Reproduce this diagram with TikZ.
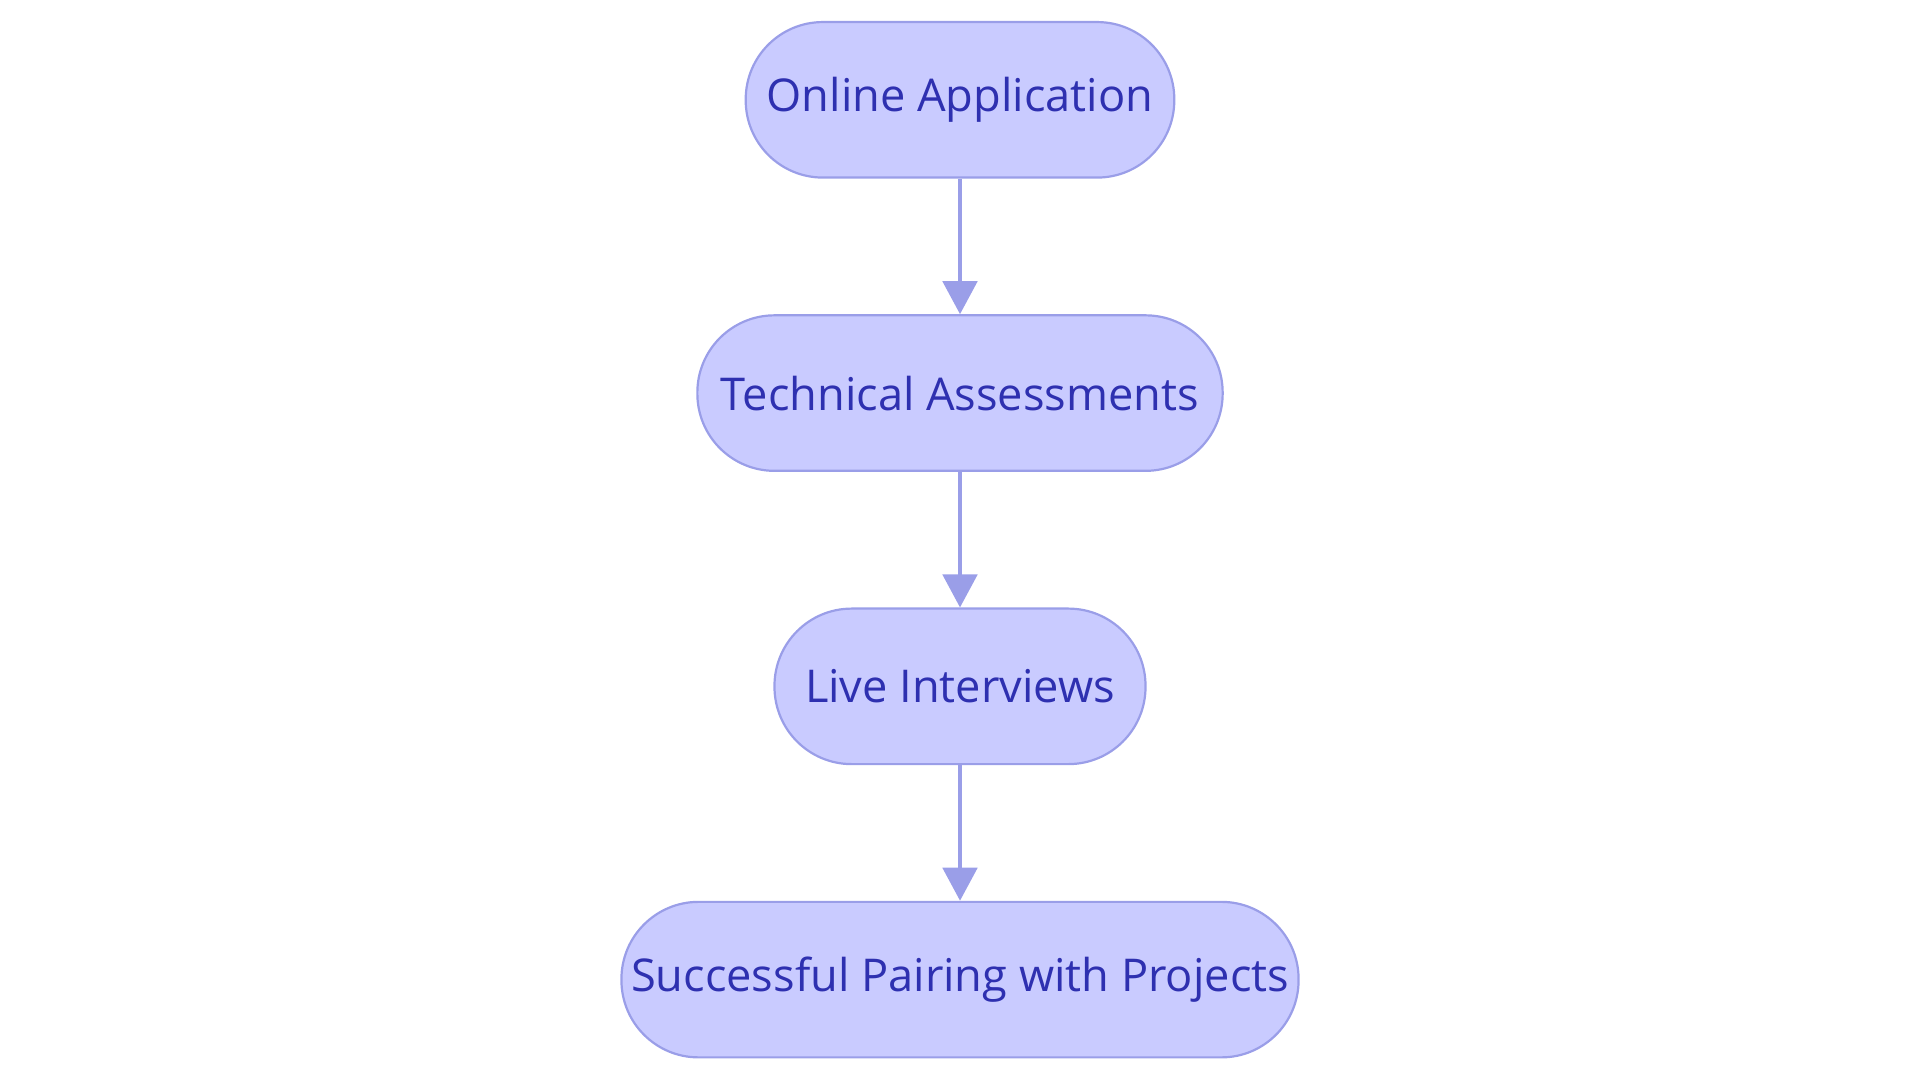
\documentclass[tikz,border=0pt]{standalone}
\usepackage{fontspec}
\setmainfont{Open Sans}
\usetikzlibrary{arrows.meta}
\definecolor{nfill}{HTML}{C9CBFF}
\definecolor{nline}{HTML}{9A9EE8}
\definecolor{ntext}{HTML}{2E30B0}
\tikzset{
  stepbox/.style={draw=nline, fill=nfill, line width=0.018cm, rounded corners=0.63cm,
    minimum height=1.27cm, inner sep=0pt, text=ntext, font=\fontsize{10.5}{12}\selectfont},
  conn/.style={draw=nline, line width=0.035cm, -{Triangle[length=0.27cm,width=0.28cm]}}
}
\begin{document}
\begin{tikzpicture}
\useasboundingbox (0,0) rectangle (15.68,-8.82);
\node[stepbox, minimum width=3.50cm] (a) at (7.84,-0.815) {Online Application};
\node[stepbox, minimum width=4.29cm] (b) at (7.84,-3.21) {Technical Assessments};
\node[stepbox, minimum width=3.03cm] (c) at (7.84,-5.605) {Live Interviews};
\node[stepbox, minimum width=5.53cm] (d) at (7.84,-8.00) {Successful Pairing with Projects};
\draw[conn] (a) -- (b);
\draw[conn] (b) -- (c);
\draw[conn] (c) -- (d);
\end{tikzpicture}
\end{document}
